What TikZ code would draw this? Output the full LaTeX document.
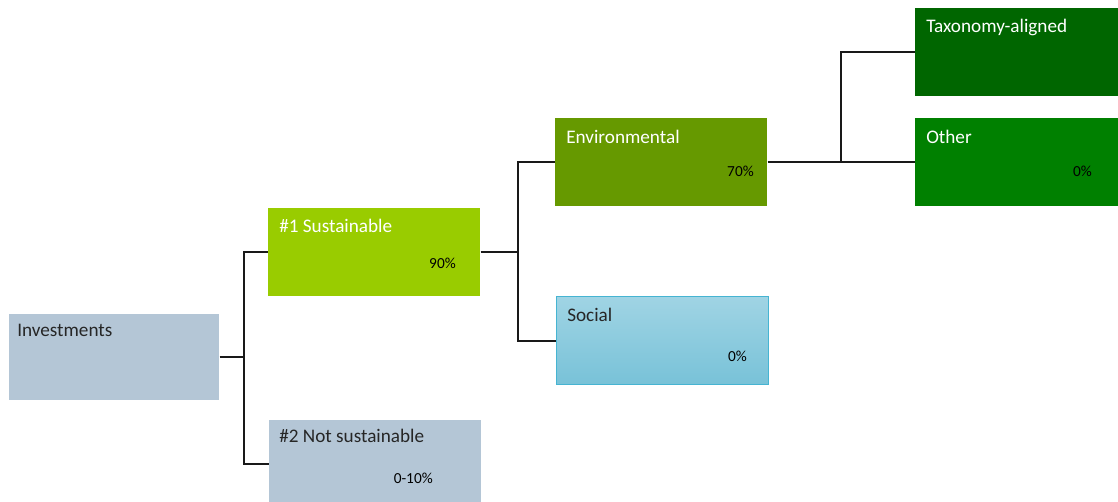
\documentclass[tikz,border=0pt]{standalone}
\usepackage{fontspec}
\setmainfont{Carlito}
\usetikzlibrary{calc}

\definecolor{grayblue}{RGB}{180,198,214}
\definecolor{limegreen}{RGB}{153,204,0}
\definecolor{olivegreen}{RGB}{102,153,0}
\definecolor{darkgreen}{RGB}{0,102,0}
\definecolor{midgreen}{RGB}{0,128,0}
\definecolor{socialtop}{RGB}{160,212,228}
\definecolor{socialbot}{RGB}{120,194,216}
\definecolor{socialline}{RGB}{70,180,210}

\def\bw{159pt}
\def\bh{66pt}

\begin{document}
\begin{tikzpicture}[x=0.75pt,y=-0.75pt,
  box/.style={rectangle,anchor=north west,inner sep=0,minimum width=\bw,minimum height=\bh},
  title/.style={anchor=base west,inner sep=0,font=\fontsize{14.4}{17}\selectfont},
  pct/.style={anchor=base east,inner sep=0,font=\fontsize{11.5}{14}\selectfont},
  link/.style={line width=1.5pt,color=black!90}]
\useasboundingbox (0,0) rectangle (1118,501);

% boxes
\node[box,fill=grayblue,minimum width=157.5pt,minimum height=64.5pt] (inv) at (9,314) {};
\node[box,fill=limegreen] (sus) at (268,208) {};
\node[box,fill=grayblue] (notsus) at (269,420) {};
\node[box,fill=olivegreen] (env) at (555,118) {};
\node[box,top color=socialtop,bottom color=socialbot,draw=socialline,line width=0.75pt] (soc) at (556,296) {};
\node[box,fill=darkgreen,minimum width=153pt] (tax) at (915,8) {};
\node[box,fill=midgreen,minimum width=153pt] (oth) at (915,118) {};

% titles
\node[title,black!85] (invt) at (17,336) {Investments};
\node[title,white] (sust) at (279,232) {\#1 Sustainable};
\node[title,black!85] (notsust) at (279,442) {\#2 Not sustainable};
\node[title,white] (envt) at (566,143) {Environmental};
\node[title,black!85] (soct) at (567,321) {Social};
\node[title,white] (taxt) at (926,32) {Taxonomy-aligned};
\node[title,white] (otht) at (926,143) {Other};

% shares
\node[pct] (susp) at (456,268) {90\%};
\node[pct] (notsusp) at (433,483) {0-10\%};
\node[pct] (envp) at (754,176) {70\%};
\node[pct] (socp) at (747,361) {0\%};
\node[pct] (othp) at (1092,176) {0\%};

% tree lines
\coordinate (j1) at ($(inv.east)!0.5!(sus.west)$);
\coordinate (j2) at ($(sus.east)!0.5!(env.west)$);
\coordinate (j3) at ($(env.east)!0.5!(oth.west)$);
\draw[link] (inv.east) -- (j1 |- inv.east) |- (sus.west);
\draw[link] (j1 |- inv.east) |- (notsus.west);
\draw[link] (sus.east) -- (j2 |- sus.east) |- (env.west);
\draw[link] (j2 |- sus.east) |- (soc.west);
\draw[link] (env.east) -- (oth.west);
\draw[link] (j3) |- (tax.west);

\end{tikzpicture}
\end{document}
